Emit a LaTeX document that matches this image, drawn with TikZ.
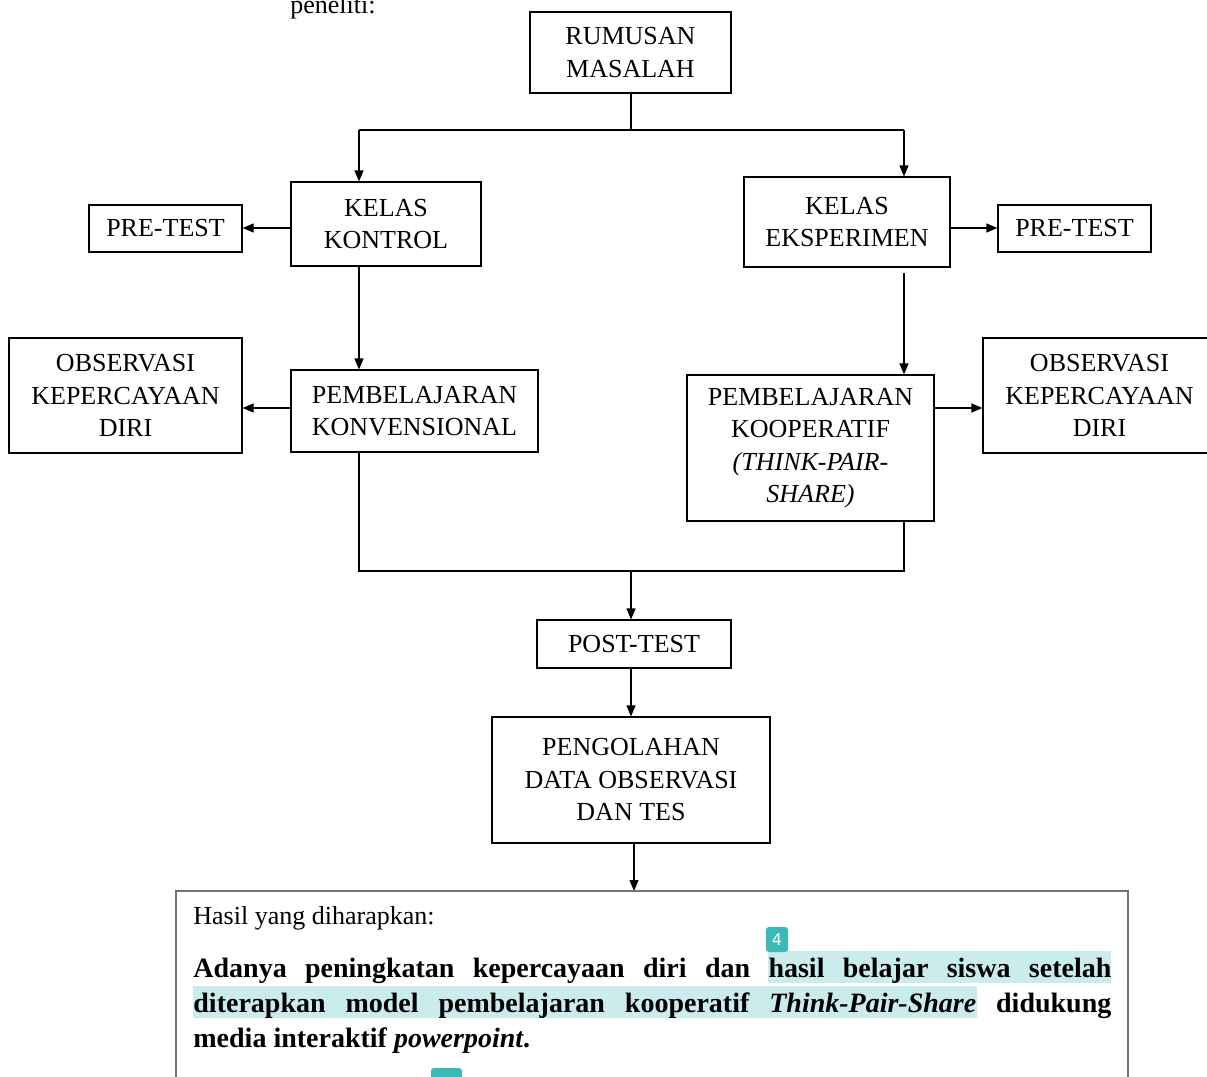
\documentclass[tikz,border=0pt]{standalone}
\usepackage{fontspec}
\setmainfont{Liberation Serif}
\newfontfamily\badgefont{DejaVu Sans}
\usetikzlibrary{arrows.meta}
\definecolor{hl}{HTML}{CBECEC}
\definecolor{badge}{HTML}{3AB9B7}
\begin{document}
\begin{tikzpicture}[x=0.5pt,y=-0.5pt,
  box/.style={draw=black, line width=0.55pt, align=center, inner sep=0pt,
    font=\fontsize{13}{16.25}\selectfont},
  arr/.style={-{Triangle[length=5.5pt,width=4.5pt]}, line width=0.55pt},
  con/.style={line width=0.55pt},
  txt/.style={anchor=base west, inner sep=0pt, font=\fontsize{13}{16}\selectfont},
  btxt/.style={txt, font=\fontsize{14}{17}\selectfont\bfseries}]
\useasboundingbox (0,0) rectangle (1207,1077);
\clip (0,0) rectangle (1207,1077);

\node[txt] (pen) at (290,13) {peneliti:};

% boxes
\node[box, minimum width=100.5pt, minimum height=40.5pt] (rum) at (630.5,52.5) {RUMUSAN\\MASALAH};
\node[box, minimum width=95pt, minimum height=42pt] (kon) at (386,224) {KELAS\\KONTROL};
\node[box, minimum width=103pt, minimum height=45pt] (eks) at (847,222) {KELAS\\EKSPERIMEN};
\node[box, minimum width=76.5pt, minimum height=23.5pt] (preL) at (165.5,228.5) {PRE-TEST};
\node[box, minimum width=76.5pt, minimum height=23.5pt] (preR) at (1074.5,228.5) {PRE-TEST};
\node[box, minimum width=116.5pt, minimum height=57.5pt] (obsL) at (125.5,395.5) {OBSERVASI\\KEPERCAYAAN\\DIRI};
\node[box, minimum width=123.5pt, minimum height=41pt] (konv) at (414.5,411) {PEMBELAJARAN\\KONVENSIONAL};
\node[box, minimum width=123.5pt, minimum height=73pt] (koop) at (810.5,448) {PEMBELAJARAN\\KOOPERATIF\\\textit{(THINK-PAIR-}\\\textit{SHARE)}};
\node[box, minimum width=116.5pt, minimum height=57.5pt] (obsR) at (1099.5,395.5) {OBSERVASI\\KEPERCAYAAN\\DIRI};
\node[box, minimum width=97pt, minimum height=24pt] (post) at (634,644) {POST-TEST};
\node[box, minimum width=139pt, minimum height=63pt] (olah) at (631,780) {PENGOLAHAN\\DATA OBSERVASI\\DAN TES};

% coordinates
\coordinate (kl) at (359,130);
\coordinate (kr) at (904,130);
\coordinate (ml) at (359,571);
\coordinate (mr) at (904,571);
\coordinate (mc) at (631,571);
\coordinate (ypre) at (0,228);
\coordinate (yobs) at (0,408);
\coordinate (bx) at (634,0);
\coordinate (bt) at (634,891);

% connectors
\draw[con] (rum.south -| mc) -- (mc |- kl);
\draw[con] (kl) -- (kr);
\draw[arr] (kl) -- (kl |- kon.north);
\draw[arr] (kr) -- (kr |- eks.north);
\draw[arr] (kon.west |- ypre) -- (preL.east |- ypre);
\draw[arr] (eks.east |- ypre) -- (preR.west |- ypre);
\draw[arr] (kon.south -| kl) -- (konv.north -| kl);
\draw[arr] ([yshift=-2.5pt]eks.south -| kr) -- (koop.north -| kr);
\draw[arr] (konv.west |- yobs) -- (obsL.east |- yobs);
\draw[arr] (koop.east |- yobs) -- (obsR.west |- yobs);
\draw[con] (konv.south -| ml) -- (ml) -- (mr) -- (koop.south -| mr);
\draw[arr] (mc) -- (post.north -| mc);
\draw[arr] (post.south -| mc) -- (olah.north -| mc);
\draw[arr] (olah.south -| bx) -- (bt);

% result box
\draw[draw=black!55, line width=0.7pt] (176,1100) -- (176,891) -- (1128,891) -- (1128,1100);

\fill[hl] (768,951) rectangle (1111,983);
\fill[hl] (193,986) rectangle (977,1018);

\node[txt] (hasil) at (193,924) {Hasil yang diharapkan:};
\node[btxt] (l1) at (193,977) {\makebox[459pt][s]{Adanya peningkatan kepercayaan diri dan hasil belajar siswa setelah}};
\node[btxt] (l2) at (193,1012) {\makebox[459pt][s]{diterapkan model pembelajaran kooperatif \textit{Think-Pair-Share} didukung}};
\node[btxt] (l3) at (193,1047) {media interaktif \textit{powerpoint}.};

\node[fill=badge, rounded corners=1.5pt, text=white, inner sep=0pt,
  minimum width=11pt, minimum height=12.5pt, font=\badgefont\fontsize{8}{8}\selectfont] (b4) at (777,939.5) {4};
\fill[badge, rounded corners=1.5pt] (431,1068) rectangle (462,1095);
\end{tikzpicture}
\end{document}
